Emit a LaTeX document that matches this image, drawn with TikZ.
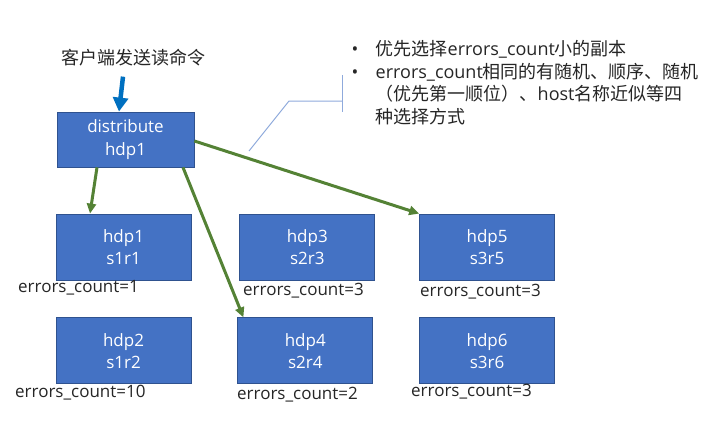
\documentclass[tikz,border=0pt]{standalone}
\usepackage{fontspec}
\setmainfont{Open Sans}
\newfontfamily\cjk{Noto Sans CJK SC}
\usetikzlibrary{arrows.meta}
\usetikzlibrary{positioning}
\definecolor{boxblue}{RGB}{68,114,196}
\definecolor{boxline}{RGB}{47,82,143}
\definecolor{pickgreen}{RGB}{84,130,53}
\definecolor{readblue}{RGB}{0,112,192}
\definecolor{calloutblue}{RGB}{143,170,220}
\definecolor{labelgray}{RGB}{38,38,38}
\tikzstyle{server} = [rectangle, fill=boxblue, draw=boxline, line width=0.8pt, minimum width=135pt, minimum height=66pt, text=white, align=center, font=\fontsize{17}{22}\selectfont]
\tikzstyle{errlabel} = [anchor=west, inner sep=0pt, text=labelgray, font=\fontsize{17}{20}\selectfont]
\tikzstyle{pick} = [-{Triangle[length=10pt,width=9pt]}, line width=3pt, draw=pickgreen]
\tikzstyle{readcmd} = [-{Triangle[length=14pt,width=15pt]}, line width=4.5pt, draw=readblue]
\tikzstyle{callout} = [draw=calloutblue, line width=1pt]

\begin{document}
\begin{tikzpicture}[x=1pt,y=-1pt,node distance=37pt]
\useasboundingbox (0,0) rectangle (718,423);
\fill[white] (0,0) rectangle (718,423);

\node (cmd) [inner sep=0pt, text=labelgray, font=\cjk\fontsize{18}{22}\selectfont] at (133.5,58) {客户端发送读命令};

\node (dist) [server, minimum width=137pt, minimum height=55pt] at (125.5,139.5) {distribute\\[1pt]hdp1};
\node (hdp1) [server] at (123.5,247) {hdp1\\s1r1};
\node (hdp2) [server, below=of hdp1] {hdp2\\s1r2};
\node (hdp3) [server, right=48pt of hdp1] {hdp3\\s2r3};
\node (hdp4) [server, below=of hdp3, xshift=-2pt] {hdp4\\s2r4};
\node (hdp5) [server, right=44pt of hdp3] {hdp5\\s3r5};
\node (hdp6) [server, below=of hdp5] {hdp6\\s3r6};

\node (err1) [errlabel] at (18,288) {errors\_count=1};
\node (err2) [errlabel] at (15,393) {errors\_count=10};
\node (err3) [errlabel] at (243,291) {errors\_count=3};
\node (err4) [errlabel] at (237,395) {errors\_count=2};
\node (err5) [errlabel] at (420,292) {errors\_count=3};
\node (err6) [errlabel] at (411,392) {errors\_count=3};

\node (note) [anchor=base west, inner sep=0pt, text=labelgray, font=\fontsize{18}{23}\selectfont] at (351.5,55) {%
\begin{tabular}[t]{@{}p{24pt}@{}l@{}}
• & {\cjk 优先选择}errors\_count{\cjk 小的副本}\\
• & errors\_count{\cjk 相同的有随机、顺序、随机}\\
  & {\cjk （优先第一顺位）、}host{\cjk 名称近似等四}\\
  & {\cjk 种选择方式}
\end{tabular}};

% callout bracket
\coordinate (calltip) at (249,151);
\draw[callout] (calltip) -- (289,101) -- (342,101);
\draw[callout] (342,75) -- (342,112);

\draw[readcmd] ([xshift=-10.5pt,yshift=-10pt]cmd.south) -- ([xshift=-6.5pt]dist.north);
\draw[pick] ([xshift=-28.5pt]dist.south) -- ([xshift=-33.5pt]hdp1.north);
\draw[pick] ([xshift=57.5pt]dist.south) -- ([xshift=6pt]hdp4.north west);
\draw[pick] ([yshift=-1.5pt]dist.east) -- (hdp5.north west);
\end{tikzpicture}
\end{document}
